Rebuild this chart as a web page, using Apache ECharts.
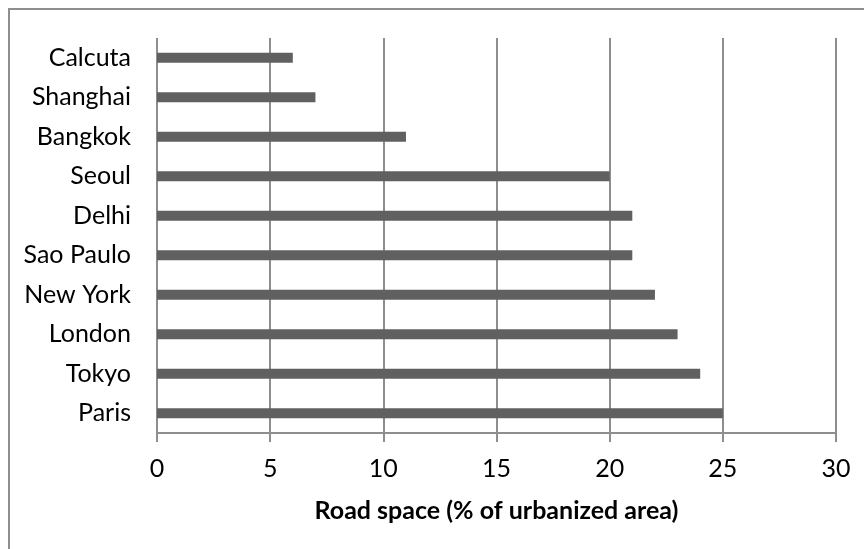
<!DOCTYPE html>
<html>
<head>
<meta charset="utf-8">
<script src="https://cdn.jsdelivr.net/npm/echarts@6/dist/echarts.min.js"></script>
<style>
  html, body { margin: 0; padding: 0; background: #fff; }
  #chart { width: 864px; height: 549px; }
</style>
</head>
<body>
<div id="chart"></div>
<script>
// Cities, top to bottom
const cities = ['Calcuta', 'Shanghai', 'Bangkok', 'Seoul', 'Delhi', 'Sao Paulo', 'New York', 'London', 'Tokyo', 'Paris'];
// Road space as % of urbanized area
const roadSpace = [6, 7, 11, 20, 21, 21, 22, 23, 24, 25];
// Value axis ticks
const axisMin = 0;
const axisMax = 30;
const axisStep = 5;
const axisTitle = 'Road space (% of urbanized area)';

const FONT = "Lato, 'Open Sans', sans-serif";
const GRID_COLOR = '#8e8e8e';

const chart = echarts.init(document.getElementById('chart'), null, { renderer: 'canvas' });
chart.setOption({
  backgroundColor: '#ffffff',
  animation: false,
  graphic: [{
    type: 'rect',
    shape: { x: 9, y: 9, width: 900, height: 600 },
    style: { fill: 'none', stroke: GRID_COLOR, lineWidth: 2 },
    silent: true
  }],
  grid: { left: 157, right: 28, top: 38, bottom: 116, containLabel: false },
  xAxis: {
    type: 'value',
    min: axisMin,
    max: axisMax,
    interval: axisStep,
    name: axisTitle,
    nameLocation: 'middle',
    nameGap: 65,
    nameTextStyle: { fontFamily: FONT, fontSize: 25, fontWeight: 'bold', color: '#000' },
    axisLine: { show: true, lineStyle: { color: GRID_COLOR, width: 2 } },
    axisTick: { show: true, length: 9, lineStyle: { color: GRID_COLOR, width: 2 } },
    axisLabel: { fontFamily: FONT, fontSize: 25, color: '#000', margin: 23 },
    splitLine: { show: true, lineStyle: { color: GRID_COLOR, width: 2 } }
  },
  yAxis: {
    type: 'category',
    data: cities,
    inverse: true,
    axisLine: { show: false },
    axisTick: { show: false },
    axisLabel: { fontFamily: FONT, fontSize: 25, color: '#000', margin: 26 }
  },
  series: [{
    type: 'bar',
    data: roadSpace,
    barWidth: 10,
    itemStyle: { color: '#606060' }
  }]
});
</script>
</body>
</html>
